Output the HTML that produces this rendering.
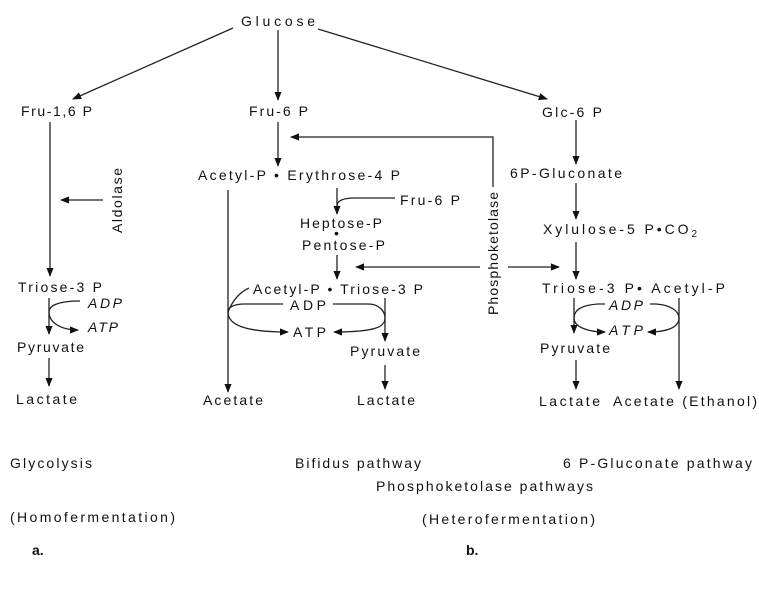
<!DOCTYPE html>
<html><head><meta charset="utf-8"><style>
html,body{margin:0;padding:0;background:#fff;}
svg{display:block;}
text{font-family:"Liberation Sans",sans-serif;fill:#111;font-size:14px;}
</style></head><body>
<svg width="759" height="601" viewBox="0 0 759 601" xmlns="http://www.w3.org/2000/svg">
<defs><marker id="a" viewBox="0 0 10 10" refX="9" refY="5" markerWidth="7" markerHeight="7" orient="auto"><path d="M0,1 L10,5 L0,9 z" fill="#111"/></marker></defs>
<g stroke="#222" stroke-width="1.3" fill="none">
<line x1="233" y1="28" x2="73" y2="99" marker-end="url(#a)"/>
<line x1="278" y1="30" x2="278" y2="100" marker-end="url(#a)"/>
<line x1="318" y1="29" x2="547" y2="99" marker-end="url(#a)"/>
<line x1="50" y1="122" x2="50" y2="276" marker-end="url(#a)"/>
<line x1="103" y1="200" x2="61" y2="200" marker-end="url(#a)"/>
<path d="M80,301 C60,301 49,305 49,312 C49,322 60,330 78,330" marker-end="url(#a)"/>
<line x1="49" y1="298" x2="49" y2="334" marker-end="url(#a)"/>
<line x1="49" y1="358" x2="49" y2="386" marker-end="url(#a)"/>
<line x1="278" y1="122" x2="278" y2="166" marker-end="url(#a)"/>
<polyline points="493,187 493,137 291,137" marker-end="url(#a)"/>
<line x1="228" y1="190" x2="228" y2="392" marker-end="url(#a)"/>
<line x1="337" y1="188" x2="337" y2="214" marker-end="url(#a)"/>
<path d="M395,198 L355,198 C345,198 337,200 337,206"/>
<line x1="337" y1="255" x2="337" y2="279" marker-end="url(#a)"/>
<line x1="480" y1="267" x2="356" y2="267" marker-end="url(#a)"/>
<line x1="508" y1="267" x2="559" y2="267" marker-end="url(#a)"/>
<path d="M249,288 C238,293 232,302 228,312"/>
<path d="M283,304 L245,304 C232,304 228,308 228,312 C228,325 245,332 288,332" marker-end="url(#a)"/>
<path d="M333,304 L368,304 C380,304 385,312 385,318 C385,326 378,332 334,332" marker-end="url(#a)"/>
<line x1="385" y1="298" x2="385" y2="341" marker-end="url(#a)"/>
<line x1="385" y1="365" x2="385" y2="389" marker-end="url(#a)"/>
<line x1="576" y1="120" x2="576" y2="164" marker-end="url(#a)"/>
<line x1="576" y1="183" x2="576" y2="219" marker-end="url(#a)"/>
<line x1="576" y1="242" x2="576" y2="279" marker-end="url(#a)"/>
<line x1="574" y1="298" x2="574" y2="333" marker-end="url(#a)"/>
<path d="M605,304 L598,304 C582,305 574,310 574,318 C574,327 588,332 605,332" marker-end="url(#a)"/>
<path d="M650,304 L656,304 C672,305 679,312 679,318 C679,327 668,332 648,332" marker-end="url(#a)"/>
<line x1="679" y1="298" x2="679" y2="389" marker-end="url(#a)"/>
<line x1="576" y1="360" x2="576" y2="389" marker-end="url(#a)"/>
</g>
<text x="241" y="26" font-size="19" textLength="74">Glucose</text>
<text x="21" y="116" textLength="71">Fru-1,6 P</text>
<text x="249" y="116" textLength="59">Fru-6 P</text>
<text x="542" y="117" textLength="60">Glc-6 P</text>
<text transform="translate(122,233) rotate(-90)" textLength="65">Aldolase</text>
<text x="18" y="292" textLength="84">Triose-3 P</text>
<text x="88" y="308" font-style="italic" textLength="34">ADP</text>
<text x="88" y="332" font-style="italic" textLength="30">ATP</text>
<text x="17" y="352" textLength="67">Pyruvate</text>
<text x="16" y="404" textLength="61">Lactate</text>
<text x="198" y="180" textLength="202">Acetyl-P • Erythrose-4 P</text>
<text x="400" y="205" textLength="60">Fru-6 P</text>
<text x="300" y="228" textLength="82">Heptose-P</text>
<text x="334" y="238" font-size="10">•</text>
<text x="302" y="250" textLength="83">Pentose-P</text>
<text transform="translate(498,315) rotate(-90)" textLength="123">Phosphoketolase</text>
<text x="253" y="294" textLength="170">Acetyl-P  • Triose-3 P</text>
<text x="290" y="310" textLength="36">ADP</text>
<text x="293" y="337" textLength="33">ATP</text>
<text x="350" y="356" textLength="70">Pyruvate</text>
<text x="357" y="405" textLength="58">Lactate</text>
<text x="203" y="405" textLength="60">Acetate</text>
<text x="510" y="178" textLength="112">6P-Gluconate</text>
<text x="543" y="234" textLength="154">Xylulose-5 P•CO<tspan font-size="10" dy="3">2</tspan></text>
<text x="542" y="293" textLength="183">Triose-3 P• Acetyl-P</text>
<text x="609" y="310" font-style="italic" textLength="34">ADP</text>
<text x="609" y="335" font-style="italic" textLength="34">ATP</text>
<text x="540" y="353" textLength="70">Pyruvate</text>
<text x="539" y="406" textLength="61">Lactate</text>
<text x="613" y="406" textLength="144">Acetate (Ethanol)</text>
<text x="10" y="468" font-size="13" textLength="82">Glycolysis</text>
<text x="295" y="468" font-size="13" textLength="126">Bifidus pathway</text>
<text x="563" y="468" font-size="13" textLength="189">6 P-Gluconate pathway</text>
<text x="376" y="491" font-size="13" textLength="217">Phosphoketolase pathways</text>
<text x="10" y="522" font-size="13" textLength="165">(Homofermentation)</text>
<text x="422" y="524" font-size="13" textLength="173">(Heterofermentation)</text>
<text x="32" y="555" font-family="Liberation Serif" font-weight="bold" font-size="17">a.</text>
<text x="466" y="555" font-family="Liberation Serif" font-weight="bold" font-size="17">b.</text>
</svg>
</body></html>
